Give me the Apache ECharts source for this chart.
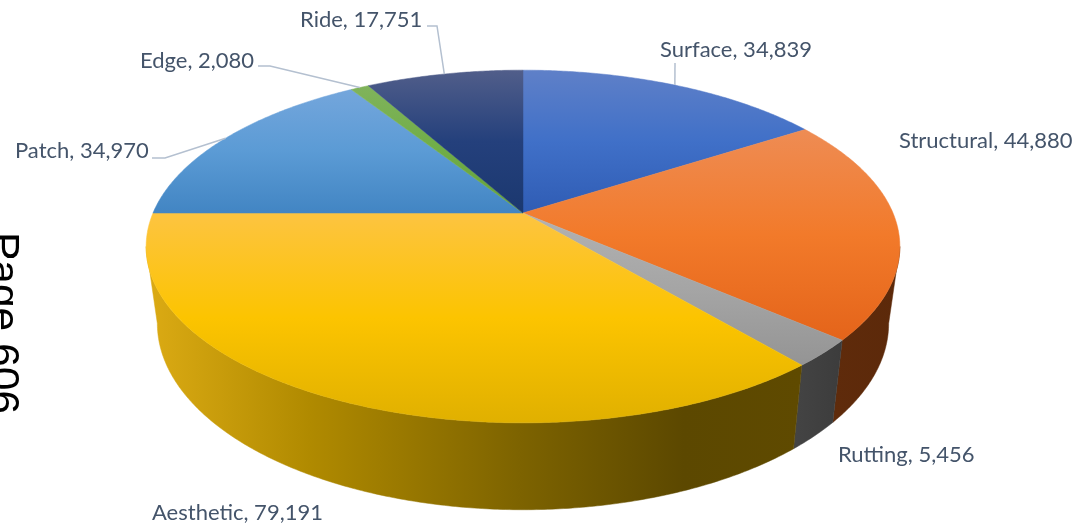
<!DOCTYPE html>
<html>
<head>
<meta charset="utf-8">
<title>Page 606</title>
<script src="https://cdn.jsdelivr.net/npm/echarts@6/dist/echarts.min.js"></script>
<style>
  html, body { margin: 0; padding: 0; background: #fff; overflow: hidden; }
  #pieChart { width: 1076px; height: 527px; }
</style>
</head>
<body>
<div id="pieChart"></div>
<script>
// 数据
var categories = ['Surface', 'Structural', 'Rutting', 'Aesthetic', 'Patch', 'Edge', 'Ride'];
var amounts = [34839, 44880, 5456, 79191, 34970, 2080, 17751];

// 顶面颜色 (上, 中, 下)
var topColors = [
  ['#5f80c8', '#4070c8', '#2f5cb4'],
  ['#ee8c54', '#f27a2a', '#e4641a'],
  ['#b2b2b2', '#a5a5a5', '#949494'],
  ['#fdc441', '#fcc400', '#e0b000'],
  ['#74a6dc', '#5b9bd5', '#4285c3'],
  ['#80b35c', '#70ad47', '#65a03c'],
  ['#515e8a', '#24407c', '#1b386f']
];
// 侧面颜色 (只有前面三块看得见)
var sideStops = {
  Structural: [[0, '#5f2b0b'], [1, '#5c290a']],
  Rutting: [[0, '#444444'], [1, '#3c3c3c']],
  Aesthetic: [[0, '#dcab14'], [0.25, '#b08a00'], [0.57, '#7d6300'], [0.82, '#5c4800'], [1, '#5f4a00']]
};
// 标签位置 (左端, 垂直中心, 引线折点)
var labelLayout = [
  {x: 660, y: 49.5, line: [[675, 63]]},
  {x: 899, y: 140.5},
  {x: 838, y: 455},
  {x: 152, y: 512.5},
  {x: 15, y: 150.5, line: [[152, 158], [165, 158]]},
  {x: 140, y: 60.5, line: [[258, 66], [270, 66]]},
  {x: 300, y: 19.5, line: [[427, 26], [437, 26]]}
];

var total = amounts.reduce(function (a, b) { return a + b; }, 0);

// 透视投影参数
var CX = 523;
var PERSPECTIVE = 0.19;
var TOP_FACE = {rx: 370, ry: 170, cy: 213};
var BOTTOM_FACE = {rx: 359, ry: 179.6, cy: 288};
// 轮廓切点的角度, 侧面只画这一段
var TANGENT = Math.acos(-PERSPECTIVE) * 180 / Math.PI;

function project(deg, face) {
  var a = deg * Math.PI / 180;
  var u = Math.sin(a), v = Math.cos(a);
  var w = 1 + PERSPECTIVE * v;
  return [CX + face.rx * u / w, face.cy - face.ry * v / w];
}

function sliceAngles(i) {
  var before = 0;
  for (var k = 0; k < i; k++) before += amounts[k];
  return [before / total * 360, (before + amounts[i]) / total * 360];
}

function arc(from, to, face) {
  var pts = [];
  var n = Math.max(2, Math.ceil((to - from) * 2));
  for (var k = 0; k <= n; k++) {
    pts.push(project(from + (to - from) * k / n, face));
  }
  return pts;
}

function gradient(x2, y2, stops) {
  return new echarts.graphic.LinearGradient(0, 0, x2, y2, stops.map(function (s) {
    return {offset: s[0], color: s[1]};
  }));
}

function renderSide(params, api) {
  var i = api.value(0);
  var ang = sliceAngles(i);
  var from = Math.max(ang[0], TANGENT);
  var to = Math.min(ang[1], 360 - TANGENT);
  if (from >= to) return null;
  var pts = arc(from, to, TOP_FACE).concat(arc(from, to, BOTTOM_FACE).reverse());
  var fill = gradient(1, 0, sideStops[categories[i]]);
  return {type: 'polygon', shape: {points: pts}, style: {fill: fill, stroke: fill, lineWidth: 0.5}};
}

function renderTop(params, api) {
  var i = api.value(0);
  var ang = sliceAngles(i);
  var pts = [[CX, TOP_FACE.cy]].concat(arc(ang[0], ang[1], TOP_FACE));
  var c = topColors[i];
  var fill = gradient(0, 1, [[0, c[0]], [0.5, c[1]], [1, c[2]]]);
  return {type: 'polygon', shape: {points: pts}, style: {fill: fill, stroke: fill, lineWidth: 0.5}};
}

function renderLabel(params, api) {
  var i = api.value(0);
  var ang = sliceAngles(i);
  var pos = labelLayout[i];
  var children = [];
  if (pos.line) {
    var mid = project((ang[0] + ang[1]) / 2, TOP_FACE);
    children.push({
      type: 'polyline',
      shape: {points: pos.line.concat([mid])},
      style: {fill: null, stroke: '#b4c0d0', lineWidth: 1.5}
    });
  }
  children.push({
    type: 'text',
    x: pos.x,
    y: pos.y,
    style: {
      text: categories[i] + ', ' + api.value(1).toLocaleString('en-US'),
      fill: '#44546a',
      font: '22px Lato',
      align: 'left',
      verticalAlign: 'middle'
    }
  });
  return {type: 'group', children: children};
}

var seriesData = amounts.map(function (v, i) { return [i, v]; });

var myChart = echarts.init(document.getElementById('pieChart'), null, {renderer: 'canvas'});
myChart.setOption({
  animation: false,
  backgroundColor: '#fff',
  graphic: [
    {
      type: 'text',
      x: 1.5,
      y: 232,
      rotation: -Math.PI / 2,
      style: {
        text: 'Page 606',
        fill: '#000',
        font: '42.5px "Liberation Sans"',
        align: 'left',
        verticalAlign: 'middle'
      }
    }
  ],
  series: [
    {type: 'custom', coordinateSystem: 'none', z: 1, silent: true, renderItem: renderSide, data: seriesData},
    {type: 'custom', coordinateSystem: 'none', z: 2, silent: true, renderItem: renderTop, data: seriesData},
    {type: 'custom', coordinateSystem: 'none', z: 3, silent: true, renderItem: renderLabel, data: seriesData}
  ]
});
</script>
</body>
</html>
